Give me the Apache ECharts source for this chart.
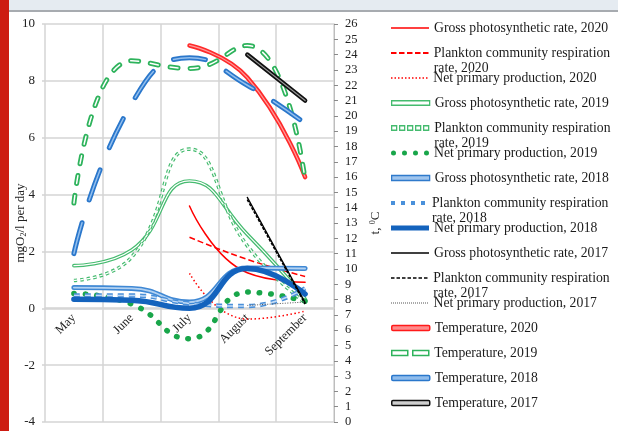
<!DOCTYPE html>
<html>
<head>
<meta charset="utf-8">
<script src="https://cdn.jsdelivr.net/npm/echarts@6/dist/echarts.min.js"></script>
<style>
html, body { margin: 0; padding: 0; background: #fff; }
#chart { width: 618px; height: 431px; }
</style>
</head>
<body>
<div id="chart"></div>
<script>
var months = ['May', 'June', 'July', 'August', 'September'];

// mgO2/l per day (left axis)
var gross2020 = [null, null, 3.6, 1.25, 0.92];
var resp2020 = [null, null, 2.5, 1.72, 1.12];
var net2020 = [null, null, 1.23, -0.38, -0.1];
var gross2019 = [1.5, 2.05, 4.48, 2.6, 0.33];
var resp2019 = [0.98, 1.8, 5.6, 2.2, 0.2];
var net2019 = [0.52, 0.15, -1.07, 0.57, 0.25];
var gross2018 = [0.73, 0.7, 0.22, 1.42, 1.4];
var resp2018 = [0.45, 0.45, 0.17, 0.08, 0.7];
var net2018 = [0.32, 0.28, 0.0, 1.4, 0.5];
var gross2017 = [null, null, null, 3.9, 0.2];
var resp2017 = [null, null, null, 3.82, 0.15];
var net2017 = [null, null, null, 0.1, 0.22];

// t, °C (right axis)
var temp2020 = [null, null, 24.6, 22.5, 16.0];
var temp2019 = [14.3, 23.6, 23.1, 24.6, 15.8];
var temp2018 = [11.0, 20.8, 23.8, 22.0, 19.5];
var temp2017 = [null, null, null, 24.0, 21.0];

var seriesNames = [
    'Gross photosynthetic rate, 2020',
    'Plankton community respiration rate, 2020',
    'Net primary production, 2020',
    'Gross photosynthetic rate, 2019',
    'Plankton community respiration rate, 2019',
    'Net primary production, 2019',
    'Gross photosynthetic rate, 2018',
    'Plankton community respiration rate, 2018',
    'Net primary production, 2018',
    'Gross photosynthetic rate, 2017',
    'Plankton community respiration rate, 2017',
    'Net primary production, 2017',
    'Temperature, 2020',
    'Temperature, 2019',
    'Temperature, 2018',
    'Temperature, 2017'
];

var serif = '"Liberation Serif", "Times New Roman", serif';
var gridColor = '#d4d4d4';

function mk(name, data, axis, color, width, type, cap) {
    return {
        name: name,
        type: 'line',
        data: data,
        yAxisIndex: axis,
        smooth: 0.5,
        symbol: 'none',
        silent: true,
        lineStyle: { color: color, width: width, type: type || 'solid', cap: cap || 'round' },
        itemStyle: { color: color }
    };
}
// thin light core drawn on top of a thicker line -> double line look
function core(base, color, width) {
    return mk(base.name + ' core', base.data, base.yAxisIndex, color, width, base.lineStyle.type, base.lineStyle.cap);
}

var series = [];
function add(s, coreColor, coreWidth) {
    series.push(s);
    if (coreColor) series.push(core(s, coreColor, coreWidth));
}

add(mk(seriesNames[0], gross2020, 0, '#ff0000', 1.5));
add(mk(seriesNames[1], resp2020, 0, '#ff0000', 1.5, [6, 3], 'butt'));
add(mk(seriesNames[2], net2020, 0, '#ff0000', 1.5, [1.5, 2.5], 'butt'));
add(mk(seriesNames[3], gross2019, 0, '#45bb6f', 3.6), '#ffffff', 1.2);
add(mk(seriesNames[4], resp2019, 0, '#45bb6f', 3.6, [3.5, 3], 'butt'), '#ffffff', 1.2);
add(mk(seriesNames[5], net2019, 0, '#19a64a', 5.5, [0.5, 11], 'round'));
add(mk(seriesNames[6], gross2018, 0, '#3f88d4', 5), '#b3d2f2', 1.8);
add(mk(seriesNames[7], resp2018, 0, '#4a90da', 4.5, [6, 5], 'butt'), '#c5dcf5', 1.5);
add(mk(seriesNames[8], net2018, 0, '#1463bd', 5.5));
add(mk(seriesNames[9], gross2017, 0, '#000000', 1.3));
add(mk(seriesNames[10], resp2017, 0, '#000000', 1.5, [3, 1.5], 'butt'));
add(mk(seriesNames[11], net2017, 0, '#555555', 1, [1, 1.5], 'butt'));
add(mk(seriesNames[12], temp2020, 1, '#ff2a2a', 4.5), '#ff9a9a', 1.3);
add(mk(seriesNames[13], temp2019, 1, '#2eb35c', 5, [8, 12], 'round'), '#ffffff', 1.5);
add(mk(seriesNames[14], temp2018, 1, '#2a77cb', 5, [32, 24], 'round'), '#93bfee', 1.5);
add(mk(seriesNames[15], temp2017, 1, '#111111', 4.5), '#9a9a9a', 1.2);

// legend icon paths
function dashIcon(w, h, dash, gap) {
    var s = '';
    for (var x = 0; x < w - 0.5; x += dash + gap) {
        var d = Math.min(dash, w - x);
        s += 'M' + x + ',0h' + d + 'v' + h + 'h-' + d + 'z';
    }
    return 'path://' + s;
}
function dotIcon(n, r, step) {
    var s = '';
    for (var i = 0; i < n; i++) {
        var cx = r + i * step;
        s += 'M' + (cx - r) + ',' + r + 'a' + r + ',' + r + ' 0 1,0 ' + (2 * r) + ',0a' + r + ',' + r + ' 0 1,0 ' + (-2 * r) + ',0z';
    }
    return 'path://' + s;
}
function pillIcon() {
    return 'path://M0,0h16v5h-16z M21,0h16v5h-16z';
}

var legendIcons = [
    { h: 1.6, icon: 'rect', style: {} },
    { h: 1.8, icon: dashIcon(38, 1.8, 5.5, 2.5), style: {} },
    { h: 1.6, icon: dashIcon(38, 1.6, 1.5, 2), style: {} },
    { h: 4.5, icon: 'rect', style: { color: '#ffffff', borderColor: '#45bb6f', borderWidth: 1.3 } },
    { h: 4.5, icon: dashIcon(38, 4.5, 5, 3), style: { color: '#ffffff', borderColor: '#45bb6f', borderWidth: 1.3 } },
    { h: 5, icon: dotIcon(4, 2.5, 11), style: {} },
    { h: 5, icon: 'rect', style: { color: '#9fc5ee', borderColor: '#2f7acb', borderWidth: 1.3 } },
    { h: 4, icon: dashIcon(38, 4, 4, 6), style: {} },
    { h: 5, icon: 'rect', style: {} },
    { h: 1.3, icon: 'rect', style: {} },
    { h: 1.6, icon: dashIcon(38, 1.6, 3.5, 2), style: {} },
    { h: 1, icon: dashIcon(38, 1, 1, 1), style: {} },
    { h: 5, icon: 'roundRect', style: { color: '#ff8a8a', borderColor: '#ff1a1a', borderWidth: 1.5 } },
    { h: 5, icon: pillIcon(), style: { color: '#ffffff', borderColor: '#2eb35c', borderWidth: 1.5 } },
    { h: 5, icon: 'roundRect', style: { color: '#8fbcec', borderColor: '#2a77cb', borderWidth: 1.5 } },
    { h: 5, icon: 'roundRect', style: { color: '#cfcfcf', borderColor: '#111111', borderWidth: 1.5 } }
];

var legends = seriesNames.map(function (name, i) {
    var two = name.indexOf('respiration') > -1;
    var cy = 28 + 25 * i;
    return {
        data: [{ name: name, icon: legendIcons[i].icon, itemStyle: legendIcons[i].style }],
        left: 391,
        top: two ? cy - 22.5 : cy - 7.5,
        orient: 'vertical',
        padding: 0,
        selectedMode: false,
        itemWidth: 38,
        itemHeight: legendIcons[i].h,
        itemStyle: { borderWidth: 0 },
        // a blank first line keeps the icon level with the first text line
        formatter: function (n) {
            return n.indexOf('respiration') > -1 ? ' \n' + n.replace('respiration ', 'respiration\n') : n;
        },
        textStyle: { fontFamily: serif, fontSize: 13.7, color: '#1a1a1a', lineHeight: 15 }
    };
});

var chart = echarts.init(document.getElementById('chart'));
chart.setOption({
    animation: false,
    backgroundColor: '#ffffff',
    graphic: [
        { type: 'rect', shape: { x: 0, y: 0, width: 618, height: 10 }, style: { fill: '#e5ebf1' }, silent: true },
        { type: 'rect', shape: { x: 0, y: 10, width: 618, height: 2 }, style: { fill: '#a7abb0' }, silent: true },
        { type: 'rect', shape: { x: 0, y: 0, width: 9, height: 431 }, style: { fill: '#cd1c12' }, silent: true }
    ],
    grid: { left: 45, right: 284, top: 24, bottom: 9, containLabel: false, outerBoundsMode: 'none' },
    legend: legends,
    xAxis: {
        type: 'category',
        data: months,
        boundaryGap: true,
        offset: -114,
        axisLine: { show: true, onZero: false, lineStyle: { color: gridColor, width: 1.5 } },
        axisTick: { show: false },
        axisLabel: { rotate: 45, margin: 8, fontFamily: serif, fontSize: 12.5, color: '#222' },
        splitLine: { show: true, lineStyle: { color: gridColor, width: 1.5 } }
    },
    yAxis: [{
        type: 'value',
        position: 'left',
        min: -4,
        max: 10,
        interval: 2,
        axisLine: { show: false },
        axisTick: { show: true, length: 3, lineStyle: { color: gridColor, width: 1.5 } },
        axisLabel: { margin: 10, fontFamily: serif, fontSize: 13, color: '#222' },
        splitLine: { show: true, lineStyle: { color: gridColor, width: 1.5 } },
        name: 'mgO{s|2}/l per day',
        nameLocation: 'middle',
        nameGap: 17,
        nameMoveOverlap: false,
        nameTextStyle: {
            fontFamily: serif, fontSize: 13, color: '#222',
            rich: { s: { fontFamily: serif, fontSize: 8, color: '#222', verticalAlign: 'bottom', padding: [6, 0, 0, 0] } }
        }
    }, {
        type: 'value',
        position: 'right',
        min: 0,
        max: 26,
        interval: 1,
        axisLine: { show: true, lineStyle: { color: '#bdbdbd', width: 1 } },
        axisTick: { show: true, length: 4, lineStyle: { color: '#8a8a8a' } },
        axisLabel: { margin: 11, fontFamily: serif, fontSize: 12.5, color: '#222' },
        splitLine: { show: false },
        name: 't, {p|0}C',
        nameLocation: 'middle',
        nameGap: 35,
        nameMoveOverlap: false,
        nameTextStyle: {
            fontFamily: serif, fontSize: 13, color: '#222',
            rich: { p: { fontFamily: serif, fontSize: 8, color: '#222', verticalAlign: 'top', padding: [0, 0, 6, 0] } }
        }
    }],
    series: series
});
window.addEventListener('resize', function () {
    chart.resize();
});
</script>
</body>
</html>
